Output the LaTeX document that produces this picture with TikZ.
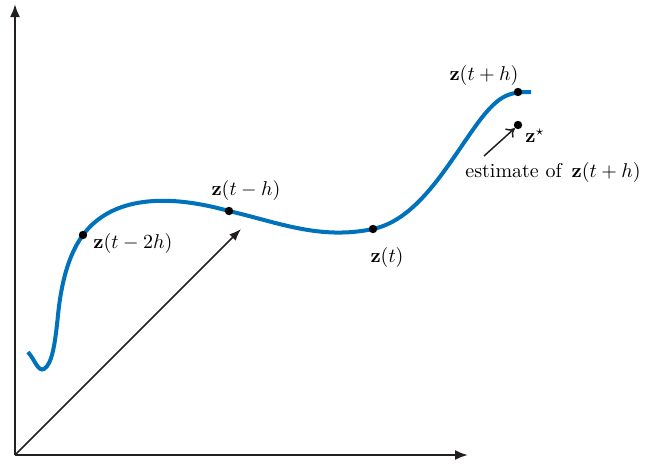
\documentclass[tikz,border=0pt]{standalone}
\usetikzlibrary{arrows.meta}
\definecolor{curveblue}{RGB}{0,114,188}
\definecolor{axisgray}{RGB}{35,31,32}
\begin{document}
\begin{tikzpicture}[x=0.5pt,y=-0.5pt,
  dot/.style={circle,fill=black,inner sep=0pt,minimum size=4.2pt},
  lbl/.style={inner sep=1pt,font=\normalsize},
  axis/.style={draw=axisgray,line width=1.1pt,-{Latex[length=6.5pt,width=5pt]}},
  vec/.style={draw=axisgray,line width=0.75pt,-{Latex[length=6pt,width=4.5pt]}},
  curve/.style={draw=curveblue,line width=2pt}]
\useasboundingbox (0,0) rectangle (646,467);
\coordinate (O) at (15,455);
\coordinate (ytip) at (15,4);
\coordinate (xtip) at (468,455);
\draw[axis] (O) -- (ytip);
\draw[axis] (O) -- (xtip);
\coordinate (vtip) at (241,229);
\draw[vec] (O) -- (vtip);
\draw[curve] (28,352) .. controls (35,360) and (38,372) .. (44,369)
  .. controls (52,364) and (55,345) .. (58,315)
  .. controls (61,285) and (68,255) .. (83,235)
  .. controls (105,205) and (150,189) .. (229,211)
  .. controls (280,223) and (320,240) .. (373,229)
  .. controls (420,219) and (450,160) .. (480,120)
  .. controls (500,94) and (510,92) .. (531,92);
\node[dot] (p1) at (83,235) {};
\node[dot] (p2) at (229,211) {};
\node[dot] (p3) at (373,229) {};
\node[dot] (p4) at (518,92) {};
\node[dot] (ps) at (518,125) {};
\node[lbl,anchor=west] (l1) at (91,243) {$\mathbf{z}(t-2h)$};
\node[lbl] (l2) at (246,190) {$\mathbf{z}(t-h)$};
\node[lbl] (l3) at (387,257) {$\mathbf{z}(t)$};
\node[lbl] (l4) at (484,75) {$\mathbf{z}(t+h)$};
\node[lbl,anchor=west] (ls) at (523,136) {$\mathbf{z}^{\star}$};
\node[lbl] (le) at (553,172) {estimate of\, $\mathbf{z}(t+h)$};
\coordinate (etail) at (484,156);
\draw[axisgray,line width=0.75pt,-{To[length=4pt,width=6pt]}] (etail) -- (ps.south west);
\end{tikzpicture}
\end{document}
